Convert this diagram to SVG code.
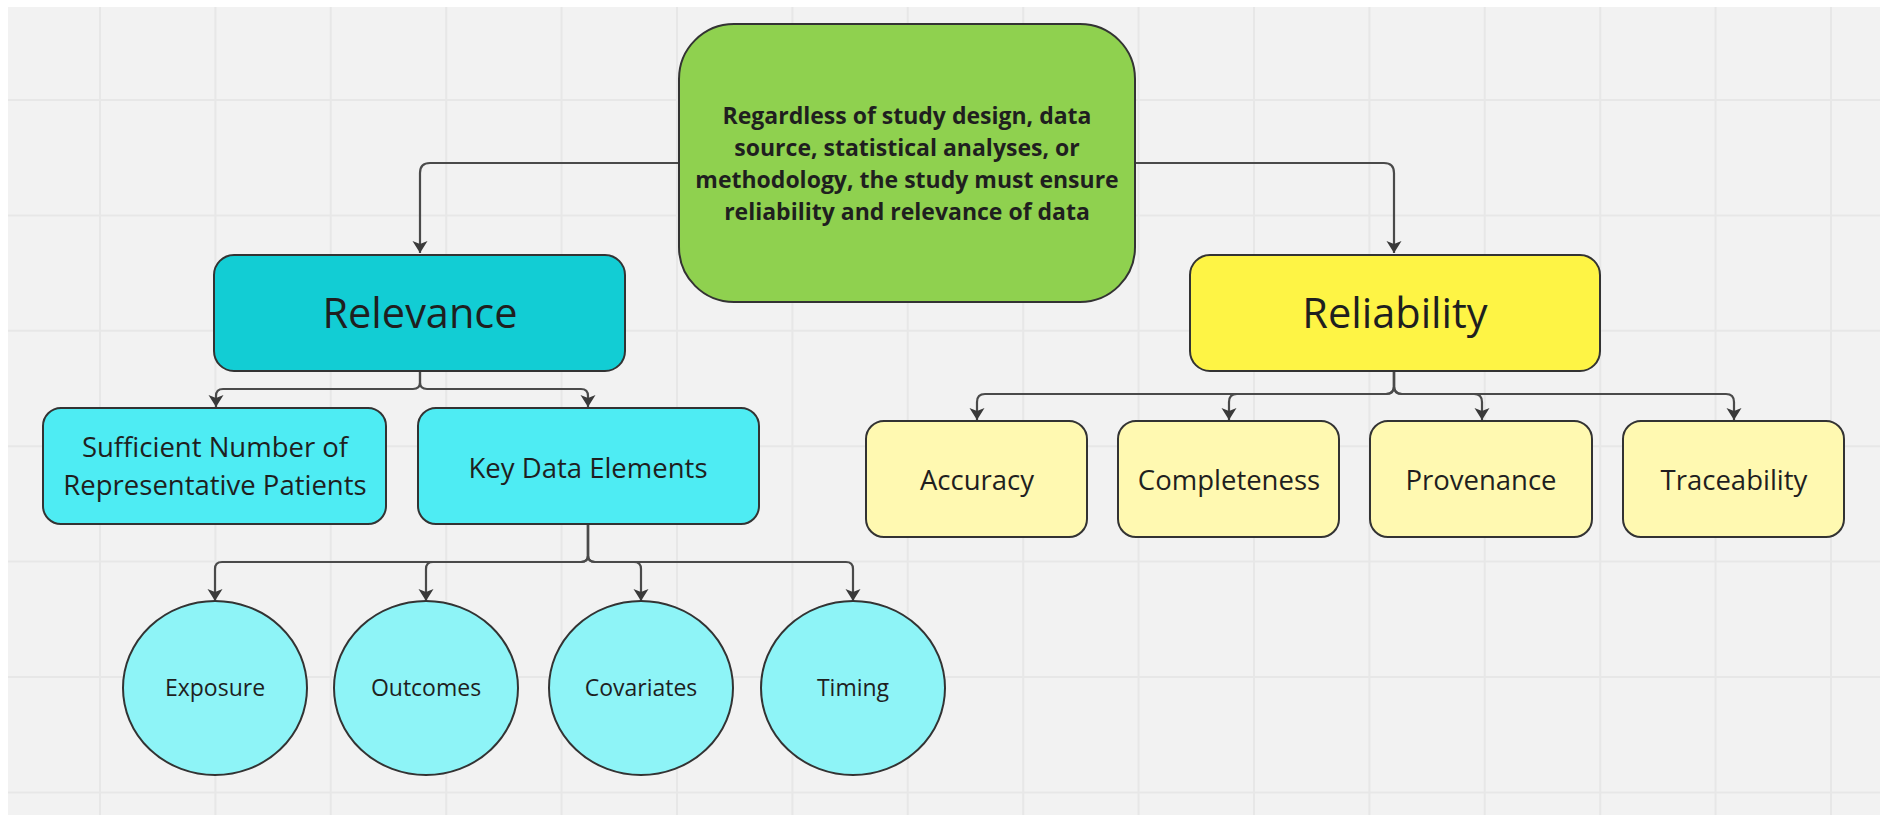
<svg xmlns="http://www.w3.org/2000/svg" width="1885" height="820" viewBox="0 0 1885 820">
<defs>
<marker id="arr" markerUnits="userSpaceOnUse" markerWidth="16" markerHeight="16" refX="12" refY="7.5" orient="auto">
<path d="M0,0 L12,7.5 L0,15 L3,7.5 z" fill="#3a3a3a"/>
</marker>
</defs>
<style>
.grid line{stroke:#e7e7e7;stroke-width:2}
.box{stroke:#333;stroke-width:2}
.conn path{fill:none;stroke:#4a4a4a;stroke-width:2.2;marker-end:url(#arr)}
text{font-family:"Open Sans","Noto Sans","Liberation Sans",sans-serif;fill:#1f1f1f;text-anchor:middle}
.main{font-weight:bold;font-size:23px}
.big{font-size:41.5px}
.mid{font-size:27.5px}
.sm{font-size:23px}
</style>
<rect x="0" y="0" width="1885" height="820" fill="#ffffff"/>
<rect x="8" y="7" width="1872" height="808" fill="#f2f2f2"/>
<g class="grid">
<line x1="100" y1="7" x2="100" y2="815"/>
<line x1="215.4" y1="7" x2="215.4" y2="815"/>
<line x1="330.8" y1="7" x2="330.8" y2="815"/>
<line x1="446.2" y1="7" x2="446.2" y2="815"/>
<line x1="561.6" y1="7" x2="561.6" y2="815"/>
<line x1="677" y1="7" x2="677" y2="815"/>
<line x1="792.4" y1="7" x2="792.4" y2="815"/>
<line x1="907.8" y1="7" x2="907.8" y2="815"/>
<line x1="1023.2" y1="7" x2="1023.2" y2="815"/>
<line x1="1138.6" y1="7" x2="1138.6" y2="815"/>
<line x1="1254" y1="7" x2="1254" y2="815"/>
<line x1="1369.4" y1="7" x2="1369.4" y2="815"/>
<line x1="1484.8" y1="7" x2="1484.8" y2="815"/>
<line x1="1600.2" y1="7" x2="1600.2" y2="815"/>
<line x1="1715.6" y1="7" x2="1715.6" y2="815"/>
<line x1="1831" y1="7" x2="1831" y2="815"/>
<line x1="8" y1="100" x2="1880" y2="100"/>
<line x1="8" y1="215.4" x2="1880" y2="215.4"/>
<line x1="8" y1="330.8" x2="1880" y2="330.8"/>
<line x1="8" y1="446.2" x2="1880" y2="446.2"/>
<line x1="8" y1="561.6" x2="1880" y2="561.6"/>
<line x1="8" y1="677" x2="1880" y2="677"/>
<line x1="8" y1="792.4" x2="1880" y2="792.4"/>
</g>
<g class="conn" id="connectors">
<path d="M679 163 H430 Q420 163 420 173 V253"/>
<path d="M1135 163 H1384 Q1394 163 1394 173 V253"/>
<path d="M420 371 V382 Q420 389 413 389 H223 Q216 389 216 396 V407"/>
<path d="M420 371 V382 Q420 389 427 389 H581 Q588 389 588 396 V407"/>
<path d="M588 524 V555 Q588 562 581 562 H222 Q215 562 215 569 V601"/>
<path d="M588 524 V555 Q588 562 581 562 H433 Q426 562 426 569 V601"/>
<path d="M588 524 V555 Q588 562 595 562 H634 Q641 562 641 569 V601"/>
<path d="M588 524 V555 Q588 562 595 562 H846 Q853 562 853 569 V601"/>
<path d="M1394 371 V386 Q1394 394 1386 394 H985 Q977 394 977 402 V420"/>
<path d="M1394 371 V386 Q1394 394 1386 394 H1237 Q1229 394 1229 402 V420"/>
<path d="M1394 371 V386 Q1394 394 1402 394 H1474 Q1482 394 1482 402 V420"/>
<path d="M1394 371 V386 Q1394 394 1402 394 H1726 Q1734 394 1734 402 V420"/>
</g>
<g id="root">
<rect class="box" x="679" y="24" width="456" height="278" rx="55" fill="#8fd14f"/>
<text class="main" x="907" y="124">Regardless of study design, data</text>
<text class="main" x="907" y="156">source, statistical analyses, or</text>
<text class="main" x="907" y="188">methodology, the study must ensure</text>
<text class="main" x="907" y="220">reliability and relevance of data</text>
</g>
<g id="relevance">
<rect class="box" x="214" y="255" width="411" height="116" rx="20" fill="#12cdd4"/>
<text class="big" x="420" y="328">Relevance</text>
</g>
<g id="reliability">
<rect class="box" x="1190" y="255" width="410" height="116" rx="20" fill="#fef445"/>
<text class="big" x="1395" y="328">Reliability</text>
</g>
<g id="sufficient">
<rect class="box" x="43" y="408" width="343" height="116" rx="18" fill="#4eecf3"/>
<text class="mid" x="215" y="457">Sufficient Number of</text>
<text class="mid" x="215" y="495">Representative Patients</text>
</g>
<g id="keydata">
<rect class="box" x="418" y="408" width="341" height="116" rx="18" fill="#4eecf3"/>
<text class="mid" x="588" y="478">Key Data Elements</text>
</g>
<g id="accuracy">
<rect class="box" x="866" y="421" width="221" height="116" rx="18" fill="#fff9b1"/>
<text class="mid" x="977" y="490">Accuracy</text>
</g>
<g id="completeness">
<rect class="box" x="1118" y="421" width="221" height="116" rx="18" fill="#fff9b1"/>
<text class="mid" x="1229" y="490">Completeness</text>
</g>
<g id="provenance">
<rect class="box" x="1370" y="421" width="222" height="116" rx="18" fill="#fff9b1"/>
<text class="mid" x="1481" y="490">Provenance</text>
</g>
<g id="traceability">
<rect class="box" x="1623" y="421" width="221" height="116" rx="18" fill="#fff9b1"/>
<text class="mid" x="1734" y="490">Traceability</text>
</g>
<g id="exposure">
<ellipse class="box" cx="215" cy="688" rx="92" ry="87" fill="#8ef4f7"/>
<text class="sm" x="215" y="696">Exposure</text>
</g>
<g id="outcomes">
<ellipse class="box" cx="426" cy="688" rx="92" ry="87" fill="#8ef4f7"/>
<text class="sm" x="426" y="696">Outcomes</text>
</g>
<g id="covariates">
<ellipse class="box" cx="641" cy="688" rx="92" ry="87" fill="#8ef4f7"/>
<text class="sm" x="641" y="696">Covariates</text>
</g>
<g id="timing">
<ellipse class="box" cx="853" cy="688" rx="92" ry="87" fill="#8ef4f7"/>
<text class="sm" x="853" y="696">Timing</text>
</g>
</svg>
